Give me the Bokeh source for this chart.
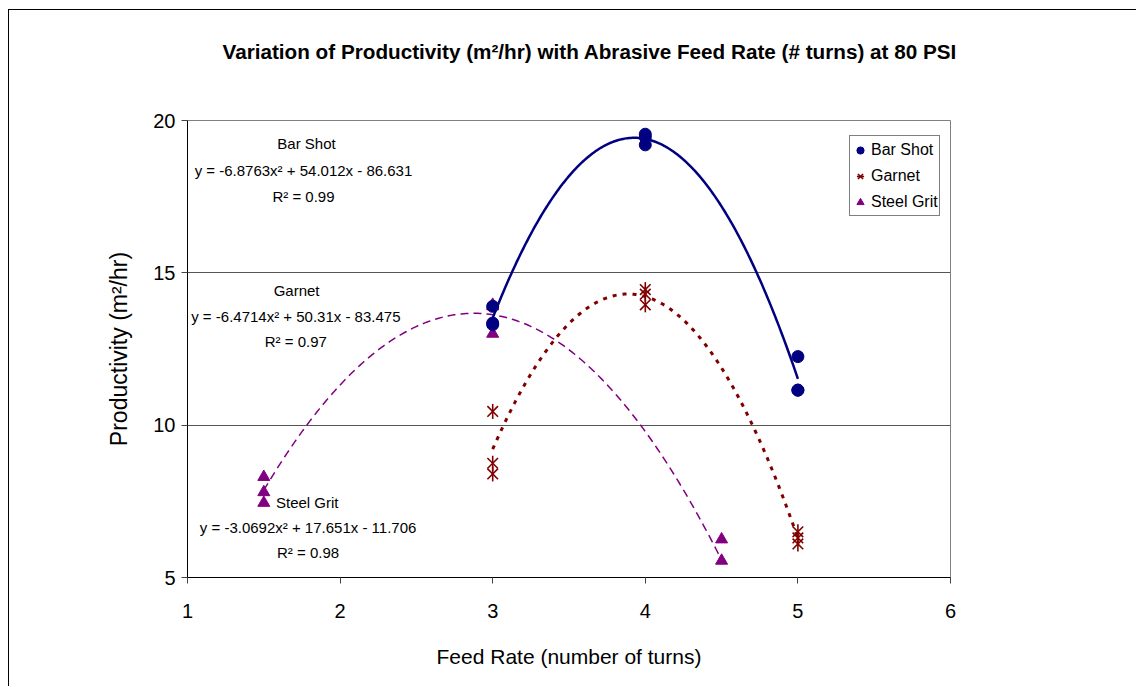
import numpy as np
from bokeh.plotting import figure
from bokeh.models import Range1d, Label, Legend, LegendItem, FixedTicker, Title
from bokeh.embed import file_html
from bokeh.resources import INLINE

# ---------------- data ----------------
bar_x = [3, 3, 3, 4, 4, 4, 5, 5, 5]
bar_y = [13.9, 13.35, 13.3, 19.55, 19.45, 19.2, 12.25, 11.15, 11.15]
garnet_x = [3, 3, 3, 4, 4, 4, 5, 5, 5]
garnet_y = [10.45, 8.75, 8.4, 14.45, 14.3, 13.95, 6.5, 6.3, 6.1]
steel_x = [1.5, 1.5, 1.5, 3, 3, 3, 4.5, 4.5]
steel_y = [8.3, 7.8, 7.45, 13.95, 13.9, 13.0, 6.25, 5.55]

# trendline coefficients (a, b, c) as printed on the chart, and x span
bar_coef = [-6.8763, 54.012, -86.631]
bar_span = [3, 5]
garnet_coef = [-6.4714, 50.31, -83.475]
garnet_span = [3, 5]
steel_coef = [-3.0692, 17.651, -11.706]
steel_span = [1.5, 4.5]

x_ticks = [1, 2, 3, 4, 5, 6]
y_ticks = [5, 10, 15, 20]

TITLE = "Variation of Productivity (m²/hr) with Abrasive Feed Rate (# turns) at 80 PSI"
FONT = "Liberation Sans"

p = figure(width=1128, height=677, x_range=Range1d(1, 6), y_range=Range1d(5, 20),
           output_backend="svg", toolbar_location=None,
           min_border_left=178, min_border_right=187, min_border_top=110, min_border_bottom=110,
           styles={"margin-left": "8px", "margin-top": "9px",
                   "border-left": "1px solid black", "border-top": "1px solid black"})
p.outline_line_color = "#808080"
p.outline_line_width = 1
p.background_fill_color = "white"
p.border_fill_color = "white"

p.title.text = TITLE
p.title.text_font = FONT
p.title.text_font_size = "20.7px"
p.title.text_font_style = "bold"
p.title.text_color = "black"
p.title.align = "left"
p.title.offset = 35

# empty spacer between the title and the plot frame
p.add_layout(Title(text=" ", text_font_size="10px", standoff=40), "above")

p.xgrid.visible = False
p.ygrid.ticker = FixedTicker(ticks=y_ticks)
p.ygrid.grid_line_color = "#555555"
p.ygrid.grid_line_width = 1

for ax in (p.xaxis[0], p.yaxis[0]):
    ax.axis_line_color = "black"
    ax.major_tick_line_color = "#444444"
    ax.major_tick_out = 6
    ax.major_tick_in = 0
    ax.minor_tick_out = 0
    ax.minor_tick_in = 0
    ax.major_label_text_font = FONT
    ax.major_label_text_font_size = "20px"
    ax.major_label_text_color = "black"
    ax.axis_label_text_font = FONT
    ax.axis_label_text_font_style = "normal"
    ax.axis_label_text_color = "black"

p.xaxis.ticker = FixedTicker(ticks=x_ticks)
p.yaxis.ticker = FixedTicker(ticks=y_ticks)
p.xaxis.axis_label = "Feed Rate (number of turns)"
p.yaxis.axis_label = "Productivity (m²/hr)"
p.xaxis.axis_label_text_font_size = "21px"
p.yaxis.axis_label_text_font_size = "23px"
p.xaxis.major_label_standoff = 20
p.xaxis.axis_label_standoff = 24
p.yaxis.major_label_standoff = 6
p.yaxis.axis_label_standoff = 18


def curve(coef, span):
    xs = np.linspace(span[0], span[1], 200)
    return xs, coef[0] * xs ** 2 + coef[1] * xs + coef[2]


sx, sy = curve(steel_coef, steel_span)
p.line(sx, sy, line_color="#800080", line_width=1.5, line_dash="8 5")
gx, gy = curve(garnet_coef, garnet_span)
p.line(gx, gy, line_color="#800000", line_width=3, line_dash="4 6")
bx, by = curve(bar_coef, bar_span)
p.line(bx, by, line_color="#000080", line_width=2.5)

r_steel = p.scatter(steel_x, steel_y, marker="triangle", size=12,
                    fill_color="#800080", line_color="#800080")
r_gx = p.scatter(garnet_x, garnet_y, marker="x", size=15, line_color="#800000", line_width=1.6)
r_gd = p.scatter(garnet_x, garnet_y, marker="dash", size=15, angle=np.pi / 2,
                 line_color="#800000", line_width=1.6)
r_bar = p.scatter(bar_x, bar_y, marker="circle", size=12,
                  fill_color="#000080", line_color="#000080")

legend = Legend(items=[LegendItem(label="Bar Shot", renderers=[r_bar]),
                       LegendItem(label="Garnet", renderers=[r_gx, r_gd]),
                       LegendItem(label="Steel Grit", renderers=[r_steel])],
                location=(662, 361))
legend.label_text_font = FONT
legend.label_text_font_size = "16px"
legend.label_text_color = "black"
legend.border_line_color = "black"
legend.border_line_width = 1
legend.background_fill_alpha = 1
legend.padding = 1
legend.spacing = 1
legend.margin = 0
legend.glyph_width = 18
legend.glyph_height = 20
legend.label_height = 25
legend.label_standoff = 2
p.add_layout(legend, "center")


def lab(x, y, text, size="15px", align="center", bold=False):
    p.add_layout(Label(x=x, y=y, text=text, text_font=FONT, text_font_size=size,
                       text_align=align, text_baseline="middle", text_color="black",
                       text_font_style="bold" if bold else "normal"))


# trendline annotations
lab(1.78, 19.24, "Bar Shot")
lab(1.76, 18.36, "y = -6.8763x² + 54.012x - 86.631")
lab(1.76, 17.50, "R² = 0.99")

lab(1.715, 14.42, "Garnet")
lab(1.71, 13.57, "y = -6.4714x² + 50.31x - 83.475")
lab(1.71, 12.75, "R² = 0.97")

lab(1.58, 7.46, "Steel Grit", align="left")
lab(1.79, 6.64, "y = -3.0692x² + 17.651x - 11.706")
lab(1.79, 5.82, "R² = 0.98")

open("out.html", "w").write(file_html(p, INLINE))
